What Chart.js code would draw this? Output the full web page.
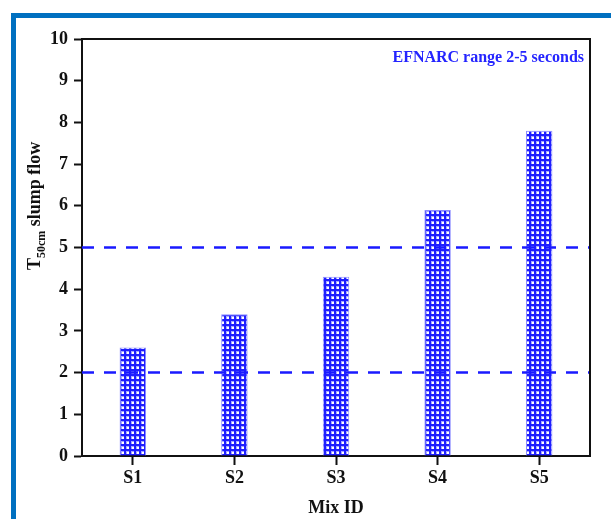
<!DOCTYPE html>
<html>
<head>
<meta charset="utf-8">
<script src="https://cdn.jsdelivr.net/npm/chart.js@4"></script>
<style>
    html, body { margin: 0; padding: 0; background: #fff; }
    #wrap { position: relative; width: 611px; height: 519px; overflow: hidden; }
    #frame {
        position: absolute; left: 11px; top: 13px; width: 700px; height: 600px;
        border-left: 5px solid #0070c0; border-top: 5px solid #0070c0;
    }
    #chart { position: absolute; left: 0; top: 0; }
</style>
</head>
<body>
<div id="wrap">
    <div id="frame"></div>
    <canvas id="chart" width="611" height="519"></canvas>
</div>
<script>
const mixIds = ["S1", "S2", "S3", "S4", "S5"];
const slumpT50 = [2.6, 3.4, 4.3, 5.9, 7.8];
const efnarcLimits = [2, 5];
const yTicks = [0, 1, 2, 3, 4, 5, 6, 7, 8, 9, 10];

const serif = "'Liberation Serif', 'Times New Roman', serif";
const ink = "#111";

// small checked tile for the bar fill
const makePattern = () => {
    const c = document.createElement("canvas");
    c.width = 5;
    c.height = 5;
    const g = c.getContext("2d");
    g.fillStyle = "#1f1fff";
    g.fillRect(0, 0, 5, 5);
    g.fillStyle = "#a8a8ff";
    g.fillRect(1, 1, 3, 3);
    g.fillStyle = "#ffffff";
    g.fillRect(2, 2, 2, 2);
    return g.createPattern(c, "repeat");
};

const decorations = {
    id: "decorations",
    afterDatasetsDraw(chart) {
        const ctx = chart.ctx;
        const area = chart.chartArea;
        const y = chart.scales.y;
        ctx.save();
        // EFNARC limit lines
        ctx.strokeStyle = "#1a1aff";
        ctx.lineWidth = 2.5;
        ctx.setLineDash([12, 10]);
        efnarcLimits.forEach(v => {
            const py = y.getPixelForValue(v);
            ctx.beginPath();
            ctx.moveTo(area.left, py);
            ctx.lineTo(area.right, py);
            ctx.stroke();
        });
        ctx.setLineDash([]);
        // box round the plot
        ctx.strokeStyle = ink;
        ctx.lineWidth = 2;
        ctx.beginPath();
        ctx.moveTo(area.left, area.top);
        ctx.lineTo(area.right, area.top);
        ctx.lineTo(area.right, area.bottom);
        ctx.stroke();
        // note
        ctx.fillStyle = "#2424ff";
        ctx.font = "bold 16px " + serif;
        ctx.textAlign = "right";
        ctx.textBaseline = "alphabetic";
        ctx.fillText("EFNARC range 2-5 seconds", area.right - 6, 62);
        // y title with subscript
        ctx.fillStyle = ink;
        ctx.translate(40, 270);
        ctx.rotate(-Math.PI / 2);
        ctx.textAlign = "left";
        ctx.font = "bold 18px " + serif;
        ctx.fillText("T", 0, 0);
        let x = ctx.measureText("T").width;
        ctx.font = "bold 12px " + serif;
        ctx.fillText("50cm", x, 5);
        x += ctx.measureText("50cm").width;
        ctx.font = "bold 18px " + serif;
        ctx.fillText(" slump flow", x, 0);
        ctx.restore();
    }
};

const ctx = document.getElementById("chart").getContext("2d");
new Chart(ctx, {
    type: "bar",
    data: {
        labels: mixIds,
        datasets: [{
            label: "T50cm",
            data: slumpT50,
            backgroundColor: makePattern(),
            borderColor: "#8c8cff",
            borderWidth: 1,
            categoryPercentage: 1,
            barPercentage: 0.26
        }]
    },
    options: {
        responsive: false,
        animation: false,
        devicePixelRatio: 1,
        layout: { padding: { left: 0, top: 39, right: 21, bottom: 0 } },
        plugins: {
            legend: { display: false },
            tooltip: { enabled: false }
        },
        scales: {
            x: {
                offset: true,
                afterFit: (s) => { s.height = 63; },
                grid: {
                    offset: false,
                    drawOnChartArea: false,
                    tickLength: 9,
                    tickWidth: 2,
                    color: ink
                },
                border: { display: true, width: 2, color: ink },
                ticks: {
                    color: ink,
                    padding: 3,
                    font: { family: serif, size: 18, weight: "bold" }
                },
                title: {
                    display: true,
                    text: "Mix ID",
                    color: ink,
                    padding: { top: 0, bottom: 0 },
                    font: { family: serif, size: 18, weight: "bold" }
                }
            },
            y: {
                min: 0,
                max: 10,
                afterFit: (s) => { s.width = 82; },
                afterBuildTicks: (s) => { s.ticks = yTicks.map(v => ({ value: v })); },
                grid: {
                    drawOnChartArea: false,
                    tickLength: 8,
                    tickWidth: 2,
                    color: ink
                },
                border: { display: true, width: 2, color: ink },
                ticks: {
                    color: ink,
                    padding: 6,
                    font: { family: serif, size: 18, weight: "bold" }
                }
            }
        }
    },
    plugins: [decorations]
});
</script>
</body>
</html>
